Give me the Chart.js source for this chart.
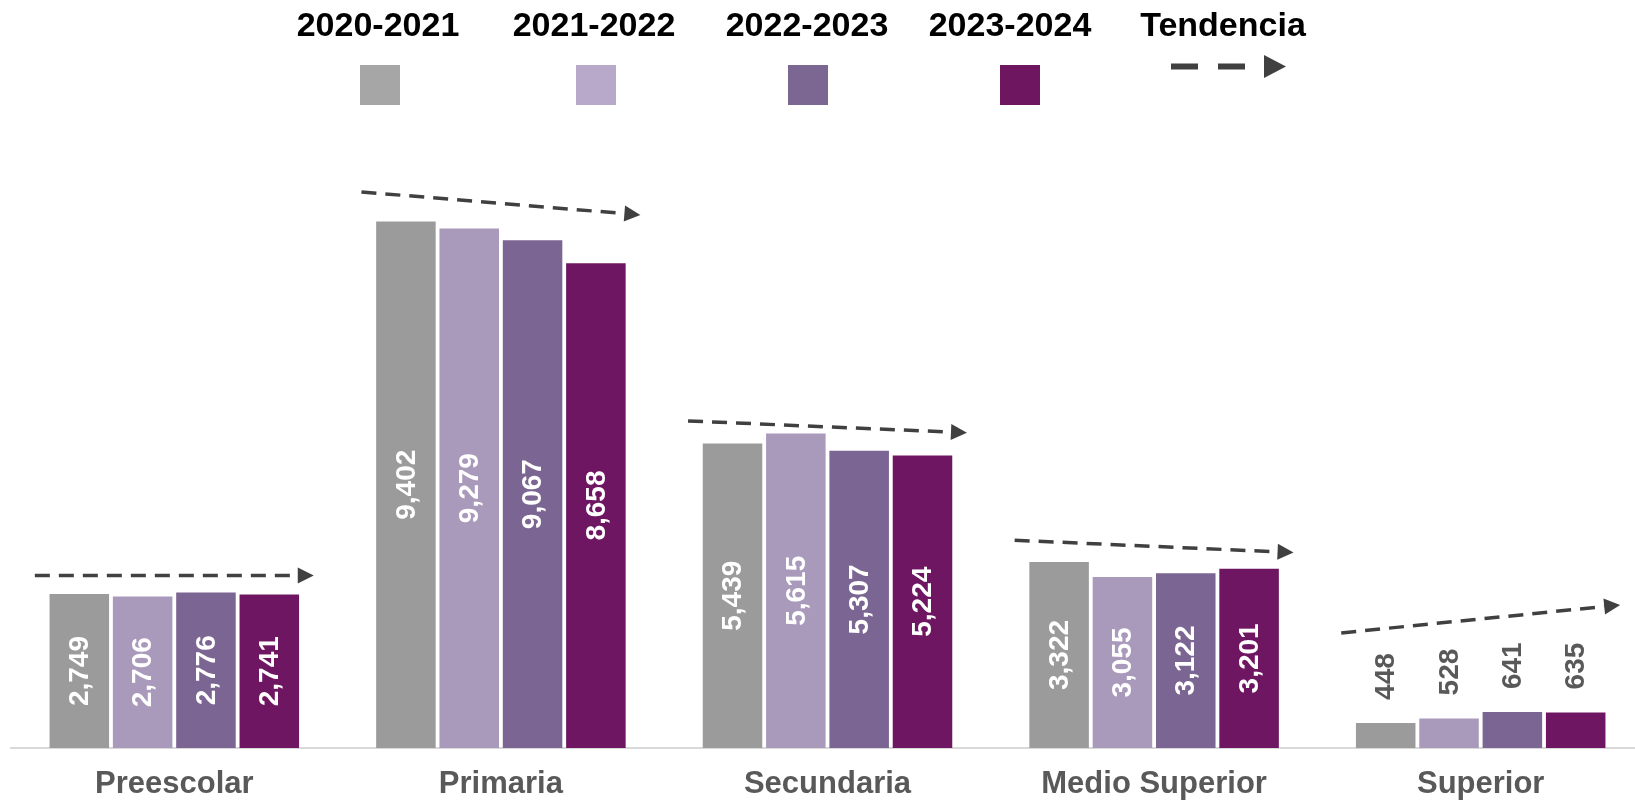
<!DOCTYPE html>
<html>
<head>
<meta charset="utf-8">
<script src="https://cdn.jsdelivr.net/npm/chart.js@4.4.1/dist/chart.umd.min.js"></script>
<style>
    html, body { margin: 0; padding: 0; background: #fff; overflow: hidden; }
    #contenedor { position: relative; width: 1660px; height: 825px; }
</style>
</head>
<body>
<div id="contenedor"><canvas id="grafica"></canvas></div>
<script>
// Datos de la gráfica
const niveles = ['Preescolar', 'Primaria', 'Secundaria', 'Medio Superior', 'Superior'];
const ciclos = ['2020-2021', '2021-2022', '2022-2023', '2023-2024'];
const ciclo2020 = [2749, 9402, 5439, 3322, 448];
const ciclo2021 = [2706, 9279, 5615, 3055, 528];
const ciclo2022 = [2776, 9067, 5307, 3122, 641];
const ciclo2023 = [2741, 8658, 5224, 3201, 635];
// Flechas de tendencia: valor al inicio y al final de cada flecha
const tendenciaInicio = [3080, 9930, 5840, 3710, 2055];
const tendenciaFin = [3080, 9520, 5630, 3490, 2555];
const ejeMax = 11000;

const coloresBarra = ['#9B9B9B', '#A99ABB', '#7B6592', '#6E1661'];
const coloresLeyenda = ['#A6A6A6', '#B8A8CA', '#7B6792', '#6E1760'];
const fuente = '"Liberation Sans", Arial, sans-serif';

// Dibuja una flecha punteada de (x0,y0) a (x1,y1)
function dibujarFlecha(ctx, x0, y0, x1, y1, grosor, guion, hueco, largoPunta, anchoPunta) {
    const ang = Math.atan2(y1 - y0, x1 - x0);
    const largo = Math.hypot(x1 - x0, y1 - y0);
    ctx.save();
    ctx.translate(x0, y0);
    ctx.rotate(ang);
    ctx.strokeStyle = '#404040';
    ctx.fillStyle = '#404040';
    ctx.lineWidth = grosor;
    ctx.setLineDash([guion, hueco]);
    ctx.beginPath();
    ctx.moveTo(0, 0);
    ctx.lineTo(largo - largoPunta, 0);
    ctx.stroke();
    ctx.setLineDash([]);
    ctx.beginPath();
    ctx.moveTo(largo, 0);
    ctx.lineTo(largo - largoPunta, -anchoPunta / 2);
    ctx.lineTo(largo - largoPunta, anchoPunta / 2);
    ctx.closePath();
    ctx.fill();
    ctx.restore();
}

// Etiquetas de valor giradas
const etiquetasBarras = {
    id: 'etiquetasBarras',
    afterDatasetsDraw(chart) {
        const ctx = chart.ctx;
        ctx.save();
        ctx.font = 'bold 28px ' + fuente;
        chart.data.datasets.forEach((ds, i) => {
            chart.getDatasetMeta(i).data.forEach((barra, j) => {
                const texto = ds.data[j].toLocaleString('en-US');
                const ancho = ctx.measureText(texto).width;
                ctx.save();
                ctx.textBaseline = 'middle';
                if (barra.base - barra.y > ancho + 20) {
                    ctx.translate(barra.x, (barra.y + barra.base) / 2);
                    ctx.rotate(-Math.PI / 2);
                    ctx.textAlign = 'center';
                    ctx.fillStyle = '#FFFFFF';
                } else {
                    ctx.translate(barra.x, barra.y - 23);
                    ctx.rotate(-Math.PI / 2);
                    ctx.textAlign = 'left';
                    ctx.fillStyle = '#595959';
                }
                ctx.fillText(texto, 0, 1);
                ctx.restore();
            });
        });
        ctx.restore();
    }
};

// Flechas de tendencia sobre cada grupo
const flechasTendencia = {
    id: 'flechasTendencia',
    afterDatasetsDraw(chart) {
        const { ctx, scales: { x, y } } = chart;
        const medio = 0.427 * (x.getPixelForValue(1) - x.getPixelForValue(0));
        niveles.forEach((nivel, i) => {
            const cx = x.getPixelForValue(i);
            dibujarFlecha(ctx, cx - medio, y.getPixelForValue(tendenciaInicio[i]),
                cx + medio, y.getPixelForValue(tendenciaFin[i]), 3.5, 15, 9, 16, 16);
        });
    }
};

// Leyenda superior
const leyenda = {
    id: 'leyenda',
    afterDraw(chart) {
        const ctx = chart.ctx;
        const textoX = [378, 594, 807, 1010, 1223];
        const cajaX = [360, 576, 788, 1000];
        ctx.save();
        ctx.font = 'bold 34px ' + fuente;
        ctx.fillStyle = '#000000';
        ctx.textAlign = 'center';
        ctx.textBaseline = 'middle';
        ciclos.concat(['Tendencia']).forEach((t, i) => ctx.fillText(t, textoX[i], 27));
        ciclos.forEach((c, i) => {
            ctx.fillStyle = coloresLeyenda[i];
            ctx.fillRect(cajaX[i], 65, 40, 40);
        });
        dibujarFlecha(ctx, 1171, 66.5, 1286, 66.5, 6, 27, 20, 22, 23);
        ctx.restore();
    }
};

const datasets = [ciclo2020, ciclo2021, ciclo2022, ciclo2023].map((datos, i) => ({
    label: ciclos[i],
    data: datos,
    backgroundColor: coloresBarra[i],
    borderWidth: 0,
    categoryPercentage: 0.7756,
    barPercentage: 0.94
}));

new Chart(document.getElementById('grafica').getContext('2d'), {
    type: 'bar',
    data: { labels: niveles, datasets },
    options: {
        responsive: true,
        maintainAspectRatio: false,
        animation: false,
        layout: { padding: { top: 132, left: 11, right: 16, bottom: 4 } },
        plugins: {
            legend: { display: false },
            tooltip: { enabled: false }
        },
        scales: {
            x: {
                grid: { display: false, drawTicks: false },
                border: { display: true, color: '#D9D9D9', width: 2 },
                ticks: {
                    color: '#595959',
                    padding: 21,
                    font: { family: fuente, size: 31, weight: 'bold', lineHeight: 1 }
                }
            },
            y: {
                display: false,
                min: 0,
                max: ejeMax
            }
        }
    },
    plugins: [etiquetasBarras, flechasTendencia, leyenda]
});
</script>
</body>
</html>
